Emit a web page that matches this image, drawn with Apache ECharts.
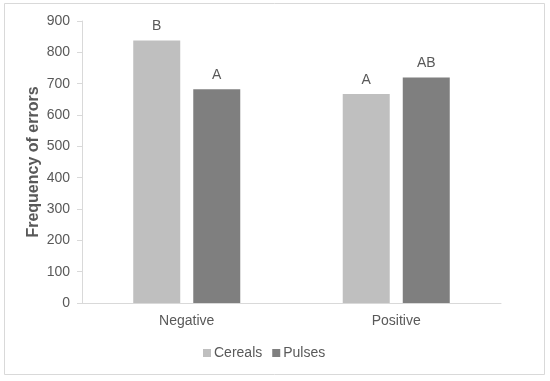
<!DOCTYPE html>
<html>
<head>
<meta charset="utf-8">
<script src="https://cdn.jsdelivr.net/npm/echarts@6/dist/echarts.min.js"></script>
<style>html,body{margin:0;padding:0;background:#fff}#c{width:550px;height:381px}</style>
</head>
<body>
<div id="c"></div>
<script>
var categories = ['Negative', 'Positive'];
var cereals = [838, 667];
var pulses = [682, 720];
var cerealsLetters = ['B', 'A'];
var pulsesLetters = ['A', 'AB'];
var yTicks = {min: 0, max: 900, interval: 100};

var font = 'Liberation Sans, Arial, sans-serif';
var txt = '#595959';
function mk(vals, letters) {
  return vals.map(function (v, i) { return {value: v, label: {formatter: letters[i]}}; });
}
var chart = echarts.init(document.getElementById('c'), null, {renderer: 'canvas'});
chart.setOption({
  animation: false,
  backgroundColor: '#fff',
  graphic: [{type: 'rect', shape: {x: 4.5, y: 3.5, width: 540, height: 371}, style: {fill: 'none', stroke: '#d9d9d9', lineWidth: 1}}],
  grid: {left: 82, right: 49, top: 21, bottom: 78},
  legend: {
    data: ['Cereals', 'Pulses'], bottom: 16, left: 198, itemWidth: 8, itemHeight: 8, itemGap: 10,
    icon: 'rect', textStyle: {color: txt, fontSize: 14, fontFamily: font, padding: [0, 0, 0, -2]}
  },
  xAxis: {
    type: 'category', data: categories,
    axisLine: {lineStyle: {color: '#d9d9d9'}}, axisTick: {show: false},
    axisLabel: {color: txt, fontSize: 14, fontFamily: font, margin: 11}
  },
  yAxis: {
    type: 'value', min: yTicks.min, max: yTicks.max, interval: yTicks.interval,
    name: 'Frequency of errors', nameLocation: 'middle', nameGap: 40, nameMoveOverlap: false,
    nameTextStyle: {color: txt, fontSize: 16, fontWeight: 'bold', fontFamily: font},
    axisLine: {show: true, lineStyle: {color: '#d9d9d9'}},
    axisTick: {show: true, length: 5, lineStyle: {color: '#d9d9d9'}},
    splitLine: {show: false},
    axisLabel: {color: txt, fontSize: 14, fontFamily: font, margin: 12}
  },
  series: [
    {name: 'Cereals', type: 'bar', data: mk(cereals, cerealsLetters), barWidth: 47, barGap: '27.7%',
     itemStyle: {color: '#bfbfbf'},
     label: {show: true, position: 'top', distance: 7, color: txt, fontSize: 14, fontFamily: font}},
    {name: 'Pulses', type: 'bar', data: mk(pulses, pulsesLetters), barWidth: 47, barGap: '27.7%',
     itemStyle: {color: '#7f7f7f'},
     label: {show: true, position: 'top', distance: 7, color: txt, fontSize: 14, fontFamily: font}}
  ]
});
</script>
</body>
</html>
